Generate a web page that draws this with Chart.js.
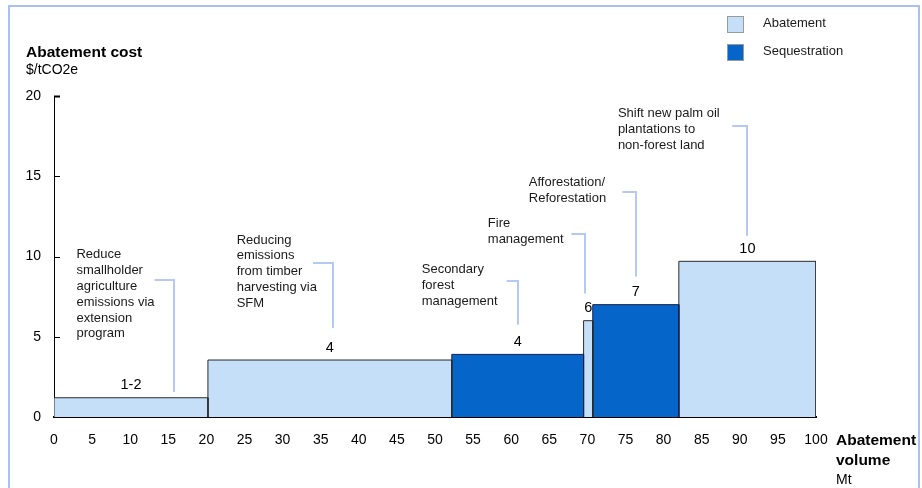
<!DOCTYPE html>
<html>
<head>
<meta charset="utf-8">
<script src="https://cdn.jsdelivr.net/npm/chart.js@4.4.1/dist/chart.umd.min.js"></script>
<style>
  html, body { margin: 0; padding: 0; background: #fff; overflow: hidden; }
  #wrap { position: relative; width: 922px; height: 488px; }
  #frame { position: absolute; left: 8px; top: 5px; width: 912px; height: 520px; border: 2px solid #a9c0f4; box-sizing: border-box; pointer-events: none; }
  canvas { position: absolute; left: 0; top: 0; }
</style>
</head>
<body>
<div id="wrap">
  <canvas id="c" width="922" height="488"></canvas>
  <div id="frame"></div>
</div>
<script>
// ---- Data ----
const categories = [
  "Reduce smallholder agriculture emissions via extension program",
  "Reducing emissions from timber harvesting via SFM",
  "Secondary forest management",
  "Fire management",
  "Afforestation/Reforestation",
  "Shift new palm oil plantations to non-forest land"
];
const categoryLines = [
  ["Reduce", "smallholder", "agriculture", "emissions via", "extension", "program"],
  ["Reducing", "emissions", "from timber", "harvesting via", "SFM"],
  ["Secondary", "forest", "management"],
  ["Fire", "management"],
  ["Afforestation/", "Reforestation"],
  ["Shift new palm oil", "plantations to", "non-forest land"]
];
const types = ["Abatement", "Abatement", "Sequestration", "Abatement", "Sequestration", "Abatement"];
const volumeStart = [0, 20.2, 52.2, 69.5, 70.7, 82.0];
const volumeEnd = [20.2, 52.2, 69.5, 70.7, 82.0, 100];
const costs = [1.2, 3.55, 3.9, 6.0, 7.0, 9.7];
const costLabels = ["1-2", "4", "4", "6", "7", "10"];
const legendLabels = ["Abatement", "Sequestration"];
const xTicks = [0, 5, 10, 15, 20, 25, 30, 35, 40, 45, 50, 55, 60, 65, 70, 75, 80, 85, 90, 95, 100];
const yTicks = [0, 5, 10, 15, 20];

// ---- Styles / annotation layout (data coordinates) ----
const COLORS = { Abatement: "#c6dff9", Sequestration: "#0565c9" };
const BORDERS = { Abatement: "#2a2a2a", Sequestration: "#15204a" };
const LEADER = "#b4caf4";
const FONT = "'Liberation Sans', Arial, Helvetica, sans-serif";
const noteLayout = [
  { tx: 2.95, ty: 10.1, hx0: 13.2, lx: 15.8, top: 8.55, bottom: 1.55 },
  { tx: 23.97, ty: 11.03, hx0: 34.0, lx: 36.6, top: 9.6, bottom: 5.55 },
  { tx: 48.26, ty: 9.17, hx0: 59.4, lx: 60.9, top: 8.45, bottom: 5.75 },
  { tx: 56.93, ty: 12.04, hx0: 67.9, lx: 69.75, top: 11.4, bottom: 7.7 },
  { tx: 62.31, ty: 14.6, hx0: 74.6, lx: 76.4, top: 14.0, bottom: 8.75 },
  { tx: 74.0, ty: 18.92, hx0: 89.0, lx: 91.0, top: 18.1, bottom: 11.3 }
];

const datasets = categories.map((name, i) => ({
  label: name,
  data: [
    { x: volumeStart[i], y: 0 },
    { x: volumeStart[i], y: costs[i] },
    { x: volumeEnd[i], y: costs[i] },
    { x: volumeEnd[i], y: 0 }
  ],
  backgroundColor: COLORS[types[i]],
  borderColor: BORDERS[types[i]],
  borderWidth: 1,
  fill: 'origin',
  pointRadius: 0,
  pointHoverRadius: 0,
  tension: 0
}));

const overlay = {
  id: 'overlay',
  afterDatasetsDraw(chart) {
    const ctx = chart.ctx;
    const xs = chart.scales.x, ys = chart.scales.y;
    const ca = chart.chartArea;
    ctx.save();
    // inward y ticks
    ctx.strokeStyle = '#000';
    yTicks.forEach(v => {
      if (v === 0) return;
      const py = Math.round(ys.getPixelForValue(v)) + 0.5;
      ctx.beginPath();
      ctx.moveTo(ca.left, py);
      ctx.lineTo(ca.left + 6, py);
      ctx.lineWidth = v === 20 ? 2 : 1;
      ctx.stroke();
    });
    // value labels
    ctx.fillStyle = '#000';
    ctx.font = '14.5px ' + FONT;
    ctx.textAlign = 'center';
    ctx.textBaseline = 'middle';
    costLabels.forEach((lab, i) => {
      const px = xs.getPixelForValue((volumeStart[i] + volumeEnd[i]) / 2);
      const py = ys.getPixelForValue(costs[i]) - 12.5;
      ctx.fillText(lab, px, py);
    });
    // leader lines
    ctx.strokeStyle = LEADER;
    ctx.lineWidth = 2;
    noteLayout.forEach(n => {
      const x0 = xs.getPixelForValue(n.hx0);
      const x1 = Math.round(xs.getPixelForValue(n.lx));
      const yt = Math.round(ys.getPixelForValue(n.top));
      const yb = ys.getPixelForValue(n.bottom);
      ctx.beginPath();
      ctx.moveTo(x0, yt);
      ctx.lineTo(x1, yt);
      ctx.lineTo(x1, yb);
      ctx.stroke();
    });
    // annotation text
    ctx.fillStyle = '#1a1a1a';
    ctx.font = '13px ' + FONT;
    ctx.textAlign = 'left';
    categoryLines.forEach((lines, i) => {
      const n = noteLayout[i];
      const px = xs.getPixelForValue(n.tx);
      const py = ys.getPixelForValue(n.ty);
      lines.forEach((ln, k) => ctx.fillText(ln, px, py + k * 15.8));
    });
    // axis titles
    ctx.fillStyle = '#000';
    ctx.font = 'bold 15.5px ' + FONT;
    ctx.fillText('Abatement cost', 26, 52.5);
    ctx.font = '14px ' + FONT;
    ctx.fillText('$/tCO2e', 26, 70);
    ctx.font = 'bold 15.5px ' + FONT;
    ctx.fillText('Abatement', ca.right + 20, 441);
    ctx.fillText('volume', ca.right + 20, 461);
    ctx.font = '14px ' + FONT;
    ctx.fillText('Mt', ca.right + 20, 480);
    // legend
    ctx.font = '13px ' + FONT;
    legendLabels.forEach((lab, k) => {
      const by = 16 + k * 28;
      ctx.fillStyle = COLORS[lab];
      ctx.fillRect(727, by, 17, 17);
      ctx.strokeStyle = '#9a9a9a';
      ctx.lineWidth = 1;
      ctx.strokeRect(727.5, by + 0.5, 16, 16);
      ctx.fillStyle = '#1a1a1a';
      ctx.fillText(lab, 763, by + 7);
    });
    ctx.restore();
  }
};

new Chart(document.getElementById('c'), {
  type: 'line',
  data: { datasets },
  options: {
    responsive: false,
    animation: false,
    events: [],
    layout: { padding: { top: 96, right: 106, bottom: 0, left: 0 } },
    plugins: { legend: { display: false }, tooltip: { enabled: false } },
    scales: {
      x: {
        type: 'linear', min: 0, max: 100,
        afterBuildTicks: s => { s.ticks = xTicks.map(v => ({ value: v })); },
        afterFit: s => { s.height = 71; },
        ticks: { color: '#000', font: { family: FONT, size: 14 }, padding: 15, maxRotation: 0, autoSkip: false },
        grid: { display: true, drawOnChartArea: false, drawTicks: false },
        border: { color: '#000', width: 2 }
      },
      y: {
        type: 'linear', min: 0, max: 20,
        afterBuildTicks: s => { s.ticks = yTicks.map(v => ({ value: v })); },
        afterFit: s => { s.width = 54; },
        ticks: { color: '#000', font: { family: FONT, size: 14 }, padding: 13 },
        grid: { display: true, drawOnChartArea: false, drawTicks: false },
        border: { color: '#000', width: 1 }
      }
    }
  },
  plugins: [overlay]
});
</script>
</body>
</html>
